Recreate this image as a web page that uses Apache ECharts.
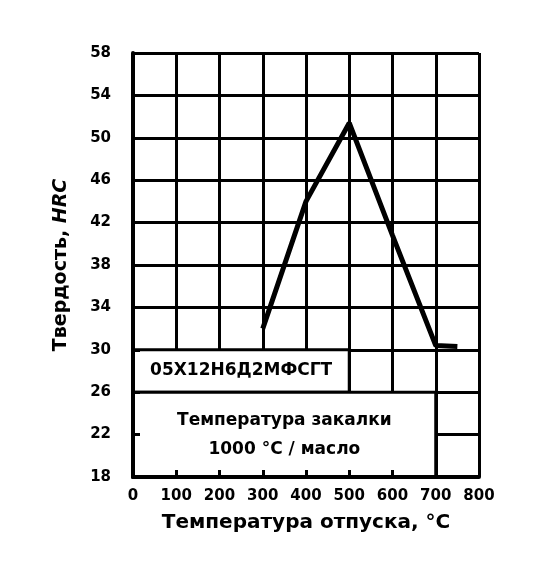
<!DOCTYPE html>
<html>
<head>
<meta charset="utf-8">
<script src="https://cdn.jsdelivr.net/npm/echarts@6/dist/echarts.min.js"></script>
<style>
  html, body { margin: 0; padding: 0; background: #fff; }
  #chart { width: 533px; height: 569px; }
</style>
</head>
<body>
<div id="chart"></div>
<script>
// температура отпуска, °C / твердость HRC
const temper = [300, 400, 500, 600, 700, 750];
const hardness = [32, 44, 51.4, 40.8, 30.4, 30.3];

const xTicks = [0, 100, 200, 300, 400, 500, 600, 700, 800];
const yTicks = [18, 22, 26, 30, 34, 38, 42, 46, 50, 54, 58];

const steelGrade = "05Х12Н6Д2МФСГТ";
const quench = ["Температура закалки", "1000 °C / масло"];

const font = "DejaVu Sans, Liberation Sans, sans-serif";

const chart = echarts.init(document.getElementById("chart"));

const baseX = {
  type: "value",
  min: xTicks[0],
  max: xTicks[xTicks.length - 1],
  interval: 100,
};
const baseY = {
  type: "value",
  min: yTicks[0],
  max: yTicks[yTicks.length - 1],
  interval: 4,
};

const option = {
  backgroundColor: "#fff",
  animation: false,
  grid: { left: 133, top: 53, right: 54, bottom: 92 },
  xAxis: [
    Object.assign({}, baseX, {
      z: 0,
      name: "Температура отпуска, °C",
      nameLocation: "middle",
      nameGap: 36,
      nameTextStyle: { color: "#000", fontSize: 20, fontWeight: "bold", fontFamily: font },
      axisLine: { show: false },
      axisTick: { show: false },
      axisLabel: { color: "#000", fontSize: 15, fontWeight: "bold", fontFamily: font, margin: 12 },
      splitLine: { show: true, lineStyle: { color: "#000", width: 3 } },
    }),
    Object.assign({}, baseX, {
      // рамка и засечки поверх таблички
      z: 5,
      position: "bottom",
      axisLine: { show: true, onZero: false, lineStyle: { color: "#000", width: 4 } },
      axisTick: { show: true, inside: true, length: 7, lineStyle: { color: "#000", width: 3 } },
      axisLabel: { show: false },
      splitLine: { show: false },
    }),
  ],
  yAxis: [
    Object.assign({}, baseY, {
      z: 0,
      name: "Твердость, {i|HRC}",
      nameLocation: "middle",
      nameGap: 62,
      nameTextStyle: {
        color: "#000", fontSize: 19, fontWeight: "bold", fontFamily: font,
        rich: { i: { fontStyle: "italic", fontSize: 19, fontWeight: "bold", fontFamily: font, color: "#000" } },
      },
      axisLine: { show: false },
      axisTick: { show: false },
      axisLabel: { color: "#000", fontSize: 15, fontWeight: "bold", fontFamily: font, margin: 22 },
      splitLine: { show: true, lineStyle: { color: "#000", width: 3 } },
    }),
    Object.assign({}, baseY, {
      z: 5,
      position: "left",
      axisLine: { show: true, onZero: false, lineStyle: { color: "#000", width: 4 } },
      axisTick: { show: true, inside: true, length: 7, lineStyle: { color: "#000", width: 3 } },
      axisLabel: { show: false },
      splitLine: { show: false },
    }),
  ],
  series: [
    {
      type: "line",
      xAxisIndex: 0,
      yAxisIndex: 0,
      data: temper.map((t, i) => [t, hardness[i]]),
      symbol: "none",
      lineStyle: { color: "#000", width: 5 },
      z: 3,
      markArea: {
        silent: true,
        itemStyle: { color: "#fff", borderColor: "#000", borderWidth: 3 },
        label: {
          show: true,
          position: "inside",
          color: "#000",
          fontSize: 17,
          fontWeight: "bold",
          fontFamily: font,
          lineHeight: 29,
        },
        data: [
          [{ name: steelGrade, coord: [0, 30] }, { coord: [500, 26] }],
          [{ name: quench.join("\n"), coord: [0, 26] }, { coord: [700, 18] }],
        ],
      },
    },
  ],
};

chart.setOption(option);
</script>
</body>
</html>
